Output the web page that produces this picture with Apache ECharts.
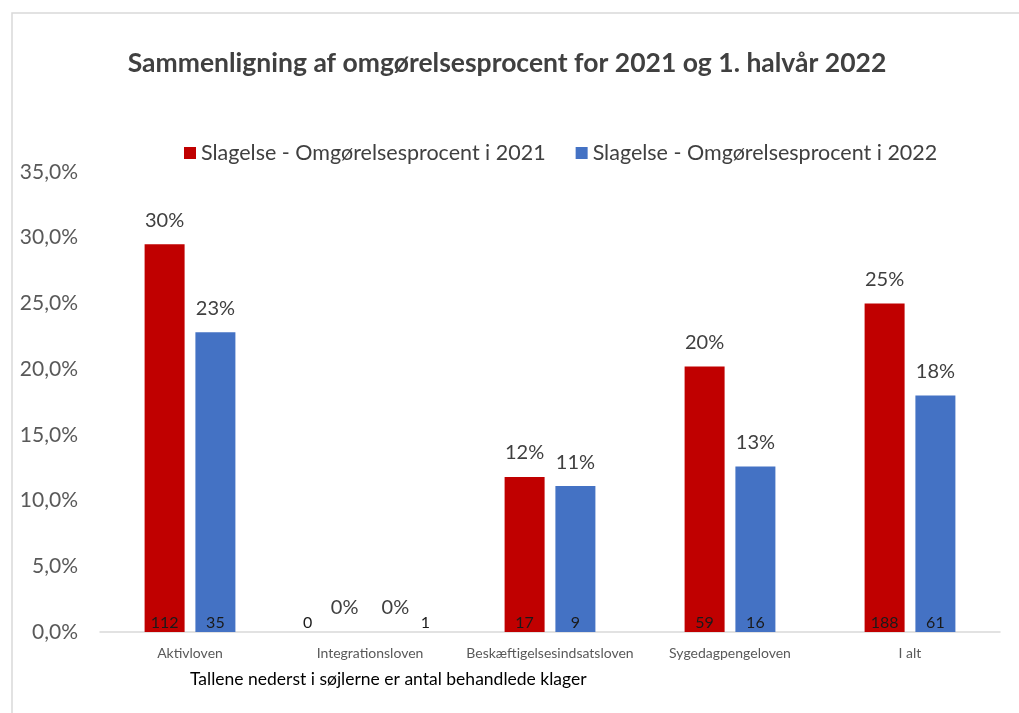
<!DOCTYPE html>
<html>
<head>
<meta charset="utf-8">
<script src="https://cdn.jsdelivr.net/npm/echarts@6/dist/echarts.min.js"></script>
<style>
  html, body { margin: 0; padding: 0; background: #fff; }
  #chart1 { width: 1019px; height: 713px; }
</style>
</head>
<body>
<div id="chart1"></div>
<script>
// data
var categories = ['Aktivloven', 'Integrationsloven', 'Beskæftigelsesindsatsloven', 'Sygedagpengeloven', 'I alt'];
var pct2021 = [29.5, 0, 11.8, 20.2, 25.0];
var pct2022 = [22.8, 0, 11.1, 12.6, 18.0];
var count2021 = [112, 0, 17, 59, 188];
var count2022 = [35, 1, 9, 16, 61];
var yTicks = [0, 5, 10, 15, 20, 25, 30, 35];

var font = 'Lato, "Open Sans", sans-serif';

function topLabel(p) {
    return Math.round(p.value) + '%';
}

// count labels sit inside bar bottoms; the integration ones were nudged sideways in the original
function countData(values, counts, nudge) {
    var data = [];
    for (var i = 0; i < values.length; i++) {
        var it = { value: values[i], count: counts[i] };
        if (values[i] === 0) {
            it.label = { offset: [nudge, 0] };
        }
        data.push(it);
    }
    return data;
}

var myChart = echarts.init(document.getElementById('chart1'));

option = {
    backgroundColor: '#fff',
    animation: false,
    title: {
        text: 'Sammenligning af omgørelsesprocent for 2021 og 1. halvår 2022',
        left: 502,
        textAlign: 'center',
        top: 45,
        textStyle: { fontFamily: font, fontSize: 26.5, fontWeight: 'bold', color: '#404040' }
    },
    legend: {
        top: 137,
        left: 179,
        itemWidth: 12,
        itemHeight: 12,
        itemGap: 30,
        icon: 'rect',
        textStyle: { fontFamily: font, fontSize: 21.5, color: '#404040' },
        data: ['Slagelse - Omgørelsesprocent i 2021', 'Slagelse - Omgørelsesprocent i 2022']
    },
    grid: { left: 100, right: 19, top: 172, bottom: 81 },
    xAxis: [
        {
            type: 'category',
            data: categories,
            axisLine: { lineStyle: { color: '#d9d9d9', width: 1.5 } },
            axisTick: { show: false },
            axisLabel: { interval: 0, fontFamily: font, fontSize: 14, color: '#595959', margin: 14 }
        },
        {
            type: 'category',
            data: categories,
            show: false
        }
    ],
    yAxis: {
        type: 'value',
        min: yTicks[0],
        max: yTicks[yTicks.length - 1],
        interval: 5,
        splitLine: { show: false },
        axisLine: { show: false },
        axisTick: { show: false },
        axisLabel: {
            fontFamily: font, fontSize: 21, color: '#595959', margin: 22,
            formatter: function (v) { return v.toFixed(1).replace('.', ',') + '%'; }
        }
    },
    graphic: [
        { type: 'rect', shape: { x: 12, y: 13, width: 1100, height: 800 },
          style: { fill: 'none', stroke: '#d9d9d9', lineWidth: 1.5 }, silent: true },
        { type: 'text', left: 190, top: 670,
          style: { text: 'Tallene nederst i søjlerne er antal behandlede klager',
                   font: '17.5px ' + font, fill: '#000' } }
    ],
    series: [
        {
            name: 'Slagelse - Omgørelsesprocent i 2021',
            type: 'bar',
            barWidth: 40,
            barGap: '27%',
            itemStyle: { color: '#C00000' },
            label: { show: true, position: 'top', distance: 14, formatter: topLabel,
                     fontFamily: font, fontSize: 20, color: '#404040' },
            data: pct2021
        },
        {
            name: 'Slagelse - Omgørelsesprocent i 2022',
            type: 'bar',
            barWidth: 40,
            itemStyle: { color: '#4472C4' },
            label: { show: true, position: 'top', distance: 14, formatter: topLabel,
                     fontFamily: font, fontSize: 20, color: '#404040' },
            data: pct2022
        },
        // invisible twins on a hidden axis carrying the count labels
        {
            name: 'n2021',
            type: 'bar',
            xAxisIndex: 1,
            barWidth: 40,
            barGap: '27%',
            itemStyle: { color: 'rgba(0,0,0,0)' },
            label: { show: true, position: 'insideBottom', distance: 1,
                     formatter: function (p) { return count2021[p.dataIndex]; },
                     fontFamily: font, fontSize: 16, color: '#1a1a1a' },
            data: countData(pct2021, count2021, -37),
            silent: true
        },
        {
            name: 'n2022',
            type: 'bar',
            xAxisIndex: 1,
            barWidth: 40,
            itemStyle: { color: 'rgba(0,0,0,0)' },
            label: { show: true, position: 'insideBottom', distance: 1,
                     formatter: function (p) { return count2022[p.dataIndex]; },
                     fontFamily: font, fontSize: 16, color: '#1a1a1a' },
            data: countData(pct2022, count2022, 30),
            silent: true
        }
    ]
};
myChart.setOption(option);
</script>
</body>
</html>
